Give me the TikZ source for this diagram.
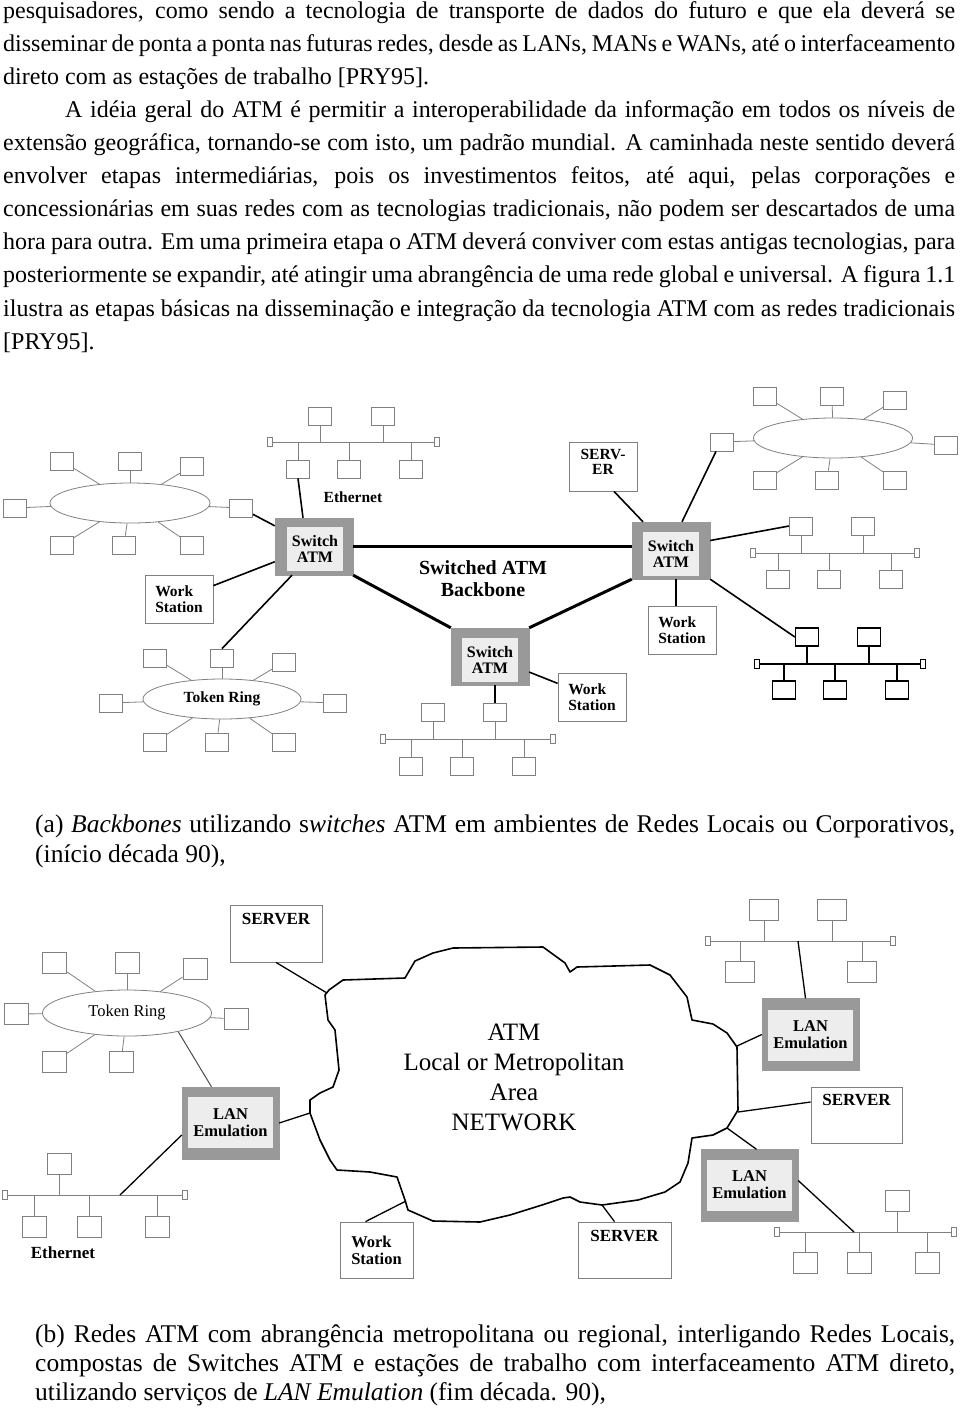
\documentclass[tikz,border=0pt]{standalone}
\usepackage{fontspec}
\setmainfont{Liberation Serif}
\usetikzlibrary{shapes.geometric}

\definecolor{netgray}{gray}{0.5}
\definecolor{swgray}{gray}{0.6}
\definecolor{swlight}{gray}{0.93}

\newcommand{\fullline}[1]{\makebox[952pt][s]{#1}}
\newcommand{\capline}[1]{\makebox[920pt][s]{#1}}

\tikzset{
  pc/.style={draw=netgray, line width=0.8pt, fill=white, minimum width=23pt, minimum height=18pt, inner sep=0pt},
  pcb/.style={pc, minimum width=24pt, minimum height=21pt},
  pcw/.style={pc, minimum width=29pt, minimum height=21pt},
  pcblack/.style={pc, draw=black, line width=1.3pt},
  term/.style={draw=netgray, line width=0.8pt, fill=white, minimum width=5pt, minimum height=9pt, inner sep=0pt},
  bus/.style={draw=netgray, line width=0.8pt},
  ring/.style={ellipse, draw=netgray, line width=0.8pt, inner sep=0pt},
  swout/.style={draw=swgray, fill=swgray, minimum width=78pt, minimum height=57pt, inner sep=0pt},
  swin/.style={fill=swlight, minimum width=56pt, minimum height=44pt, inner sep=0pt, align=center,
    font=\fontsize{16}{16}\selectfont\bfseries},
  lanout/.style={swout, minimum width=97pt, minimum height=72pt},
  lanin/.style={swin, minimum width=85pt, minimum height=51pt, font=\fontsize{16.5}{17}\selectfont\bfseries},
  wsbox/.style={draw=netgray, line width=0.8pt, fill=white, align=left, inner sep=0pt,
    font=\fontsize{15.5}{15.5}\selectfont\bfseries},
  lbl/.style={font=\fontsize{15.5}{15.5}\selectfont\bfseries, inner sep=0pt, align=center},
  lblb/.style={lbl, font=\fontsize{17}{17}\selectfont\bfseries},
  conn/.style={line width=1.6pt},
  connb/.style={line width=1.3pt},
  backbone/.style={line width=3pt},
  cloudline/.style={line width=1.6pt, line join=round},
}

\begin{document}
\begin{tikzpicture}[x=1pt, y=-1pt]
\useasboundingbox (0,0) rectangle (960,1408);

% texto
\node[anchor=north west, inner sep=0pt, align=left, font=\fontsize{24}{33.1}\selectfont] (bodytext) at (3,1) {%
\fullline{pesquisadores, como sendo a tecnologia de transporte de dados do futuro e que ela deverá se}\\
\fullline{disseminar de ponta a ponta nas futuras redes, desde as LANs, MANs e WANs, até o interfaceamento}\\
direto com as estações de trabalho {[PRY95].}\\
\hspace*{62pt}\makebox[890pt][s]{A idéia geral do ATM é permitir a interoperabilidade da informação em todos os níveis de}\\
\fullline{extensão geográfica, tornando-se com isto, um padrão mundial. A caminhada neste sentido deverá}\\
\fullline{envolver etapas intermediárias, pois os investimentos feitos, até aqui, pelas corporações e}\\
\fullline{concessionárias em suas redes com as tecnologias tradicionais, não podem ser descartados de uma}\\
\fullline{hora para outra. Em uma primeira etapa o ATM deverá conviver com estas antigas tecnologias, para}\\
\fullline{posteriormente se expandir, até atingir uma abrangência de uma rede global e universal. A figura 1.1}\\
\fullline{ilustra as etapas básicas na disseminação e integração da tecnologia ATM com as redes tradicionais}\\
{[PRY95].}};

% (a) anel da esquerda
\node[ring, minimum width=160pt, minimum height=40pt] (ringA) at (130,503) {};
\foreach \n/\x/\y in {a1/62/461, a2/130/461, a3/192/466, a4/15/508, a5/241/508, a6/62/545, a7/124/545, a8/192/545}
  \node[pc] (\n) at (\x,\y) {};
\foreach \n in {a1,a2,a3,a4,a5,a6,a7,a8}
  \draw[bus] (ringA) -- (\n);

% (a) ethernet de cima
\node[term] (tA1) at (270,442) {};
\node[term] (tA2) at (437,442) {};
\draw[bus] (tA1) -- (tA2);
\foreach \n/\x/\y in {eA1/320/416, eA2/383/416, eA3/298/469, eA4/349/469, eA5/411/469} {
  \node[pc] (\n) at (\x,\y) {};
  \draw[bus] (\n) -- (\n |- tA1);}
\node[lbl] (ethAlbl) at (353,497) {Ethernet};

% (a) switches
\node[swout] (swA) at (314,546.5) {};
\node[swin] (swAin) at (315,549) {Switch\\ATM};
\node[swout] (swB) at (490,656.5) {};
\node[swin] (swBin) at (490,659.5) {Switch\\ATM};
\node[swout] (swC) at (671,550.5) {};
\node[swin] (swCin) at (671,553.5) {Switch\\ATM};
\node[font=\fontsize{20}{22}\selectfont\bfseries, align=center] (bbtxt) at (483,579) {Switched ATM\\Backbone};

\draw[backbone] (swA.east) -- (swA.east -| swC.west);
\draw[backbone] (swA.south east) -- (swB.north west);
\draw[backbone] (swC.south west) -- (swB.north east);

% (a) token ring
\node[ring, minimum width=158pt, minimum height=40pt, font=\fontsize{15.5}{15.5}\selectfont\bfseries] (tringA) at (222,699) {Token Ring};
\foreach \n/\x/\y in {b1/155/658, b2/222/658, b3/284/662, b4/111/703, b5/335/703, b6/155/742, b7/217/742, b8/284/742}
  \node[pc] (\n) at (\x,\y) {};
\foreach \n in {b1,b2,b3,b4,b5,b6,b7,b8}
  \draw[bus] (tringA) -- (\n);

\node[wsbox, minimum width=68pt, minimum height=48pt] (wsA) at (179,599) {Work\\Station};

\draw[conn] (eA3.south) -- ([xshift=-11pt]swA.north);
\draw[conn] (a5) -- (swA);
\draw[conn] (wsA) -- (swA);
\draw[conn] (b2.north) -- ([xshift=-22pt]swA.south);

% (a) ethernet abaixo do switch central
\node[term] (tB1) at (383,739) {};
\node[term] (tB2) at (553,739) {};
\draw[bus] (tB1) -- (tB2);
\foreach \n/\x/\y in {c1/433/712, c2/495/712, c3/411/766, c4/462/766, c5/524/766} {
  \node[pc] (\n) at (\x,\y) {};
  \draw[bus] (\n) -- (\n |- tB1);}
\draw[conn] (c2.north) -- (c2.north |- swB.south);
\node[wsbox, minimum width=68pt, minimum height=48pt] (wsB) at (592,697) {Work\\Station};
\draw[conn] (swB) -- (wsB);

% (a) lado direito
\node[wsbox, minimum width=68pt, minimum height=49pt,
  label={[lbl, anchor=north, yshift=-7pt]north:SERV-\\ER}] (srvA) at (603,466.5) {};
\draw[conn] ([xshift=11pt]srvA.south) -- ([xshift=-28pt]swC.north);

\node[ring, minimum width=159pt, minimum height=40pt] (ringC) at (833,438) {};
\foreach \n/\x/\y in {d1/765/396, d2/832/396, d3/895/400, d4/722/442, d5/946/445, d6/765/480, d7/827/480, d8/895/480}
  \node[pc] (\n) at (\x,\y) {};
\foreach \n in {d1,d2,d3,d4,d5,d6,d7,d8}
  \draw[bus] (ringC) -- (\n);
\draw[conn] ([xshift=11pt]swC.north) -- ([xshift=-6pt]d4.south);

\node[term] (tC1) at (753,553) {};
\node[term] (tC2) at (917,553) {};
\draw[bus] (tC1) -- (tC2);
\foreach \n/\x/\y in {e1/801/526, e2/863/526, e3/778/579, e4/829/579, e5/891/579} {
  \node[pc] (\n) at (\x,\y) {};
  \draw[bus] (\n) -- (\n |- tC1);}
\draw[conn] ([yshift=10pt]swC.east) -- (e1.west);

\node[wsbox, minimum width=68pt, minimum height=48pt] (wsC) at (682,630) {Work\\Station};
\draw[conn] ([xshift=5pt]swC.south) -- ([xshift=-6pt]wsC.north);

\node[term, draw=black, line width=1.3pt] (tD1) at (757,664) {};
\node[term, draw=black, line width=1.3pt] (tD2) at (923,664) {};
\draw[line width=1.3pt] (tD1) -- (tD2);
\foreach \n/\x/\y in {f1/807/637, f2/869/637, f3/784/690, f4/835/690, f5/897/690} {
  \node[pcblack] (\n) at (\x,\y) {};
  \draw[line width=1.3pt] (\n) -- (\n |- tD1);}
\draw[conn] (swC.south east) -- (f1.west);

% legenda (a)
\node[anchor=north west, inner sep=0pt, align=left, font=\fontsize{25.5}{30}\selectfont] (capA) at (35,815) {%
\capline{(a) \textit{Backbones} utilizando s\textit{witches} ATM em ambientes de Redes Locais ou Corporativos,}\\
(início década 90),};

% (b) nuvem
\draw[cloudline] (329,990) -- (343,980) -- (405,978) -- (415,961) -- (433,953) -- (453,948)
  -- (543,947) -- (565,963) -- (570,972) -- (577,967) -- (650,965) -- (670,975) -- (687,997)
  -- (692,1020) -- (713,1024) -- (727,1033) -- (737,1047) -- (738,1110) -- (735,1115)
  -- (727,1128) -- (713,1135) -- (692,1138) -- (688,1163) -- (680,1182) -- (665,1192)
  -- (638,1200) -- (602,1205) -- (580,1202) -- (570,1197) -- (563,1198) -- (542,1205)
  -- (510,1215) -- (480,1222) -- (433,1221) -- (408,1210) -- (405,1200) -- (397,1177)
  -- (370,1172) -- (337,1170) -- (330,1160) -- (320,1140) -- (310,1113) -- (310,1100)
  -- (320,1093) -- (333,1087) -- (339,1070) -- (335,1030) -- (328,1020) -- (325,995) -- cycle;
\node[font=\fontsize{25}{30}\selectfont, align=center] (cloudtxt) at (514,1077)
  {ATM\\Local or Metropolitan\\Area\\NETWORK};

\coordinate (cA) at (327,993);
\coordinate (cB) at (310,1113);
\coordinate (cC) at (406,1201);
\coordinate (cD) at (737,1046);
\coordinate (cE) at (738,1112);
\coordinate (cF) at (727,1128);
\coordinate (cG) at (602,1205);

% (b) lado esquerdo
\node[wsbox, minimum width=92pt, minimum height=57pt,
  label={[lblb, anchor=north, yshift=-8pt]north:SERVER}] (srvB) at (276,933.5) {};
\draw[connb] (srvB.south) -- (cA);

\node[ring, minimum width=169pt, minimum height=46pt, font=\fontsize{16.5}{17}\selectfont] (ringB) at (127,1013) {Token Ring};
\foreach \n/\x/\y in {g1/54/963, g2/127/963, g3/195/969, g4/16/1014, g5/236/1019, g6/54/1062, g7/121/1062}
  \node[pcb] (\n) at (\x,\y) {};
\foreach \n in {g1,g2,g3,g4,g5,g6,g7}
  \draw[bus] (ringB) -- (\n);

\node[lanout] (lanA) at (230.5,1123) {};
\node[lanin] (lanAin) at (230.5,1122.5) {LAN\\Emulation};
\draw[line width=1pt, draw=black!70] (ringB.-20) -- ([xshift=-19pt]lanA.north);
\draw[connb] (lanA.east) -- (cB);

\node[term] (tE1) at (5,1195) {};
\node[term] (tE2) at (185,1195) {};
\draw[bus] (tE1) -- (tE2);
\foreach \n/\x/\y in {h1/59/1164, h2/34/1227, h3/89/1227, h4/157/1227} {
  \node[pcb] (\n) at (\x,\y) {};
  \draw[bus] (\n) -- (\n |- tE1);}
\coordinate (jE) at (120,1195);
\draw[connb] (jE) -- ([yshift=-12pt]lanA.west);
\node[lblb] (ethElbl) at (63,1253) {Ethernet};

\node[wsbox, minimum width=73pt, minimum height=56pt, font=\fontsize{16.5}{17}\selectfont\bfseries] (wsD) at (376.5,1250) {Work\\Station};
\draw[connb] ([xshift=-11pt]wsD.north) -- (cC);

% (b) lado direito
\node[term] (tF1) at (708,941) {};
\node[term] (tF2) at (893,941) {};
\draw[bus] (tF1) -- (tF2);
\foreach \n/\x/\y in {k1/764/910, k2/832/910, k3/740/972, k4/862/972} {
  \node[pcw] (\n) at (\x,\y) {};
  \draw[bus] (\n) -- (\n |- tF1);}
\coordinate (jF) at (798,941);

\node[lanout] (lanB) at (810.5,1034.5) {};
\node[lanin] (lanBin) at (810.5,1035) {LAN\\Emulation};
\draw[connb] (jF) -- ([xshift=-5pt]lanB.north);
\draw[connb] (cD) -- (lanB.west);

\node[wsbox, minimum width=91pt, minimum height=56pt,
  label={[lblb, anchor=north, yshift=-7pt]north:SERVER}] (srvC) at (856.5,1115) {};
\draw[connb] (cE) -- ([yshift=13pt]srvC.west);

\node[lanout] (lanC) at (749.5,1185.5) {};
\node[lanin] (lanCin) at (749.5,1185) {LAN\\Emulation};
\draw[connb] (cF) -- ([xshift=7pt]lanC.north);

\node[term] (tG1) at (777,1232) {};
\node[term] (tG2) at (954,1232) {};
\draw[bus] (tG1) -- (tG2);
\foreach \n/\x/\y in {m1/897/1201, m2/805/1263, m3/859/1263, m4/927/1263} {
  \node[pcb] (\n) at (\x,\y) {};
  \draw[bus] (\n) -- (\n |- tG1);}
\coordinate (jG) at (854,1232);
\draw[connb] ([yshift=5pt]lanC.east) -- (jG);

\node[wsbox, minimum width=93pt, minimum height=56pt,
  label={[lblb, anchor=north, yshift=-8pt]north:SERVER}] (srvD) at (624.5,1250) {};
\draw[connb] ([xshift=-10pt]srvD.north) -- (cG);

% legenda (b)
\node[anchor=north west, inner sep=0pt, align=left, font=\fontsize{25.5}{29}\selectfont] (capB) at (35,1325) {%
\capline{(b) Redes ATM com abrangência metropolitana ou regional, interligando Redes Locais,}\\
\capline{compostas de Switches ATM e estações de trabalho com interfaceamento ATM direto,}\\
utilizando serviços de \textit{LAN Emulation} (fim década. 90),};
\end{tikzpicture}
\end{document}
